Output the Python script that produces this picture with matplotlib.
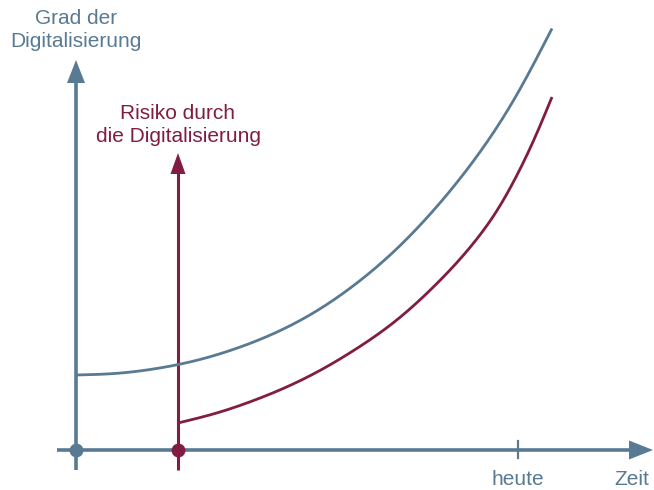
import numpy as np
import matplotlib
matplotlib.use("Agg")
import matplotlib.pyplot as plt

plt.rcParams['font.family'] = ['Liberation Sans', 'DejaVu Sans']

# ---- data (time vs. degree, arbitrary units) ----
time_digital = [0, 40, 80, 120, 160, 200, 240, 280, 320, 360, 400, 440, 476]
degree_digital = [75, 76.6, 81.4, 89.5, 101.5, 117.5, 138.7, 166.3, 200.5, 242.5, 292.5, 353.9, 421.5]

time_risk = [102, 140, 180, 200, 240, 280, 300, 320, 360, 400, 420, 440, 460, 476]
degree_risk = [27, 36.8, 50.4, 58.4, 77.4, 101.0, 114.4, 129.4, 165.6, 210, 237.9, 273, 314.9, 353]

risk_start = 102      # time where risk axis starts
today = 442           # "heute"

label_y = "Grad der\nDigitalisierung"
label_risk = "Risiko durch\ndie Digitalisierung"
label_today = "heute"
label_x = "Zeit"

BLUE = "#587a92"
RED = "#811c42"


def spline(xs, ys, n=400):
    """Natural cubic spline through the read points (for smooth rendering)."""
    x = np.asarray(xs, float)
    y = np.asarray(ys, float)
    m = len(x)
    h = np.diff(x)
    A = np.zeros((m, m))
    b = np.zeros(m)
    A[0, 0] = A[-1, -1] = 1.0
    for i in range(1, m - 1):
        A[i, i - 1] = h[i - 1]
        A[i, i] = 2 * (h[i - 1] + h[i])
        A[i, i + 1] = h[i]
        b[i] = 6 * ((y[i + 1] - y[i]) / h[i] - (y[i] - y[i - 1]) / h[i - 1])
    M = np.linalg.solve(A, b)
    xx = np.linspace(x[0], x[-1], n)
    idx = np.clip(np.searchsorted(x, xx) - 1, 0, m - 2)
    x0, x1 = x[idx], x[idx + 1]
    hh = x1 - x0
    t0, t1 = x1 - xx, xx - x0
    yy = (M[idx] * t0 ** 3 / (6 * hh) + M[idx + 1] * t1 ** 3 / (6 * hh)
          + (y[idx] / hh - M[idx] * hh / 6) * t0
          + (y[idx + 1] / hh - M[idx + 1] * hh / 6) * t1)
    return xx, yy


fig = plt.figure(figsize=(6.54, 4.9), dpi=100)
ax = fig.add_axes([0, 0, 1, 1])
ax.set_xlim(-76, 578)
ax.set_ylim(-40, 450)
ax.axis('off')

AX_LW = 2.6

# y axis
ax.plot([0, 0], [-20, 370], color=BLUE, lw=AX_LW, solid_capstyle='butt', zorder=2)
ax.fill([-9, 9, 0], [367, 367, 390], color=BLUE, lw=0, zorder=2)

# x axis
ax.plot([-19, 556], [0, 0], color=BLUE, lw=AX_LW, solid_capstyle='butt', zorder=3)
ax.fill([553, 553, 577], [-9.5, 9.5, 0], color=BLUE, lw=0, zorder=3)

# today tick
ax.plot([today, today], [-8, 9], color=BLUE, lw=1.6, zorder=3)

# risk axis
ax.plot([risk_start, risk_start], [-20, 279], color=RED, lw=2.2, solid_capstyle='butt', zorder=2)
ax.fill([risk_start - 7.5, risk_start + 7.5, risk_start], [276, 276, 297], color=RED, lw=0, zorder=2)

# curves
bx, by = spline(time_digital, degree_digital)
ax.plot(bx, by, color=BLUE, lw=2.0, solid_capstyle='butt', zorder=4)
rx, ry = spline(time_risk, degree_risk)
ax.plot(rx, ry, color=RED, lw=2.0, solid_capstyle='butt', zorder=4)

# origin dots
ax.plot([0], [0], 'o', color=BLUE, ms=10, mec='none', zorder=5)
ax.plot([risk_start], [0], 'o', color=RED, ms=10, mec='none', zorder=5)

# texts
ax.text(0, 420, label_y, color=BLUE, fontsize=15, ha='center', va='center', linespacing=1.22)
ax.text(risk_start, 325, label_risk, color=RED, fontsize=15, ha='center', va='center', linespacing=1.22)
ax.text(today, -29, label_today, color=BLUE, fontsize=15, ha='center', va='center')
ax.text(556, -29, label_x, color=BLUE, fontsize=15, ha='center', va='center')

fig.savefig("out.png", dpi=100)
